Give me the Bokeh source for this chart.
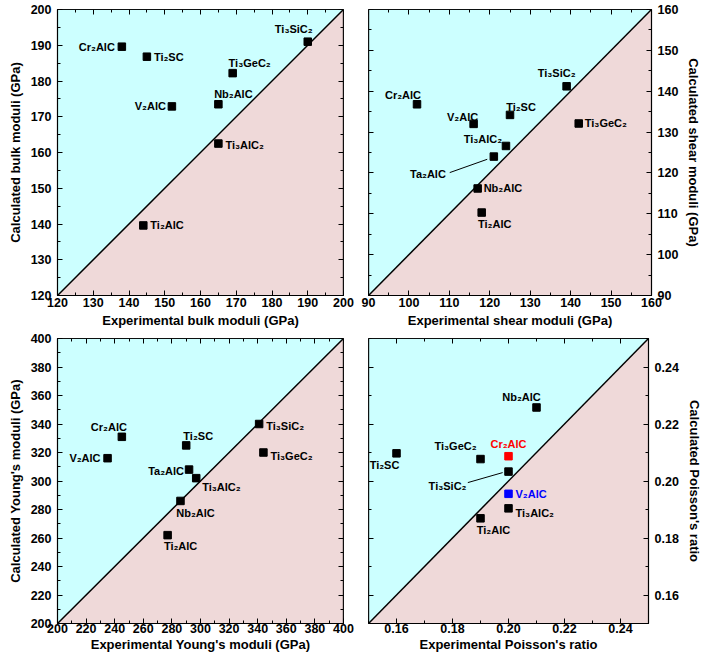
import numpy as np
from bokeh.plotting import figure
from bokeh.models import (Range1d, LinearAxis, SingleIntervalTicker, FixedTicker,
                          PrintfTickFormatter, ColumnDataSource)
from bokeh.layouts import column, row
from bokeh.embed import file_html
from bokeh.resources import INLINE

# ---------------- data ----------------
# Panel 1: bulk moduli (GPa)
bulk_names = ["Cr₂AlC", "Ti₂SC", "Ti₃SiC₂", "Ti₃GeC₂", "Nb₂AlC", "V₂AlC", "Ti₃AlC₂", "Ti₂AlC"]
bulk_exp = [138, 145, 190, 169, 165, 152, 165, 144]
bulk_calc = [189.6, 186.8, 191.0, 182.2, 173.5, 172.9, 162.5, 139.6]

# Panel 2: shear moduli (GPa)
shear_names = ["Cr₂AlC", "V₂AlC", "Ti₂SC", "Ti₃SiC₂", "Ti₃GeC₂", "Ti₃AlC₂", "Ta₂AlC", "Nb₂AlC", "Ti₂AlC"]
shear_exp = [102, 116, 125, 139, 142, 124, 121, 117, 118]
shear_calc = [136.8, 132.0, 134.2, 141.2, 132.1, 126.6, 124.0, 116.2, 110.3]

# Panel 3: Young's moduli (GPa)
young_names = ["Cr₂AlC", "V₂AlC", "Ti₂SC", "Ta₂AlC", "Ti₃AlC₂", "Nb₂AlC", "Ti₂AlC", "Ti₃SiC₂", "Ti₃GeC₂"]
young_exp = [245, 235, 290, 292, 297, 286, 277, 341, 344]
young_calc = [331, 316, 325, 308, 302, 286, 262, 340, 320]

# Panel 4: Poisson's ratio
pois_names = ["Nb₂AlC", "Ti₂SC", "Ti₃GeC₂", "Cr₂AlC", "Ti₃SiC₂", "V₂AlC", "Ti₃AlC₂", "Ti₂AlC"]
pois_exp = [0.21, 0.16, 0.19, 0.20, 0.20, 0.20, 0.20, 0.19]
pois_calc = [0.2258, 0.2097, 0.2077, 0.2087, 0.2033, 0.1955, 0.1904, 0.1869]

# ---------------- label placement (screen px) ----------------
bulk_lab = [("right", -7, 0), ("left", 7, 0), ("center", -14, -13), ("center", 17, -10),
            ("center", 15, -10), ("right", -6, 0), ("left", 7, 1), ("left", 7, 0)]
shear_lab = [("center", -14, -9), ("center", -11, -7), ("center", 11, -8), ("center", -10, -13),
             ("left", 6, 0), ("center", -23, -7), ("right", -48, 17), ("left", 6, 0), ("center", 13, 11)]
young_lab = [("center", -13, -10), ("right", -7, 0), ("center", 12, -9), ("right", -5, 1),
             ("left", 6, 9), ("center", 15, 12), ("center", 13, 11), ("left", 7, 2), ("left", 7, 3)]
pois_lab = [("center", -15, -10), ("center", -12, 12), ("center", -25, -13), ("center", 0, -12),
            ("right", -42, 14), ("left", 7, 0), ("left", 7, 5), ("center", 13, 12)]
pois_colors = ["black", "black", "black", "red", "black", "blue", "black", "black"]

CYAN = "#CCFFFF"
PINK = "#EFD9D9"
FONT = "Liberation Sans"


def style_axis(ax, interval, fmt, lab_standoff, title_standoff):
    ax.ticker = SingleIntervalTicker(interval=interval, num_minor_ticks=2)
    ax.formatter = PrintfTickFormatter(format=fmt)
    ax.major_tick_in = 5
    ax.major_tick_out = 0
    ax.minor_tick_in = 3
    ax.minor_tick_out = 0
    ax.axis_line_color = "black"
    ax.axis_line_width = 1.2
    ax.major_tick_line_color = "black"
    ax.minor_tick_line_color = "black"
    ax.major_label_text_font = FONT
    ax.major_label_text_font_style = "bold"
    ax.major_label_text_font_size = "12.5px"
    ax.major_label_text_color = "black"
    ax.major_label_standoff = lab_standoff
    ax.axis_label_text_font = FONT
    ax.axis_label_text_font_style = "bold"
    ax.axis_label_text_font_size = "13px"
    ax.axis_label_text_color = "black"
    ax.axis_label_standoff = title_standoff


def mirror_axis(p, side, lo, hi, interval, loc):
    n = int(round((hi - lo) / (interval / 2)))
    pos = [lo + k * interval / 2 for k in range(n + 1)]
    major = [v for k, v in enumerate(pos) if abs((v / interval) - round(v / interval)) < 1e-6]
    minor = [v for v in pos if v not in major]
    for ticks, ln in ((major, 5), (minor, 3)):
        ax = LinearAxis(ticker=FixedTicker(ticks=[], minor_ticks=ticks), fixed_location=loc)
        ax.minor_tick_in = ln
        ax.minor_tick_out = 0
        ax.major_tick_in = 0
        ax.major_tick_out = 0
        ax.minor_tick_line_color = "black"
        ax.axis_line_color = "black"
        ax.axis_line_width = 1.2
        ax.major_label_standoff = 0
        p.add_layout(ax, side)


def panel(lo, hi, interval, fmt, xlabel, ylabel, yside, names, xs, ys, labs, colors,
          width, height, borders, xstand, leader=None):
    p = figure(width=width, height=height, output_backend="svg", toolbar_location=None,
               x_range=Range1d(lo, hi), y_range=Range1d(lo, hi), y_axis_location=yside,
               min_border_left=borders[0], min_border_right=borders[1],
               min_border_top=borders[2], min_border_bottom=borders[3])
    p.grid.visible = False
    p.outline_line_color = "black"
    p.background_fill_color = "white"
    p.border_fill_color = "white"

    # background triangles and diagonal, from the axis range
    p.patch([lo, lo, hi], [lo, hi, hi], fill_color=CYAN, line_color=None)
    p.patch([lo, hi, hi], [lo, lo, hi], fill_color=PINK, line_color=None)
    p.line([lo, hi], [lo, hi], line_color="black", line_width=1.5)

    p.xaxis.axis_label = xlabel
    p.yaxis.axis_label = ylabel
    style_axis(p.xaxis[0], interval, fmt, xstand[0], xstand[1])
    style_axis(p.yaxis[0], interval, fmt, 6, 5)
    mirror_axis(p, "above", lo, hi, interval, hi)
    if yside == "right":
        mirror_axis(p, "left", lo, hi, interval, lo)
    else:
        mirror_axis(p, "right", lo, hi, interval, hi)

    fw = width - borders[0] - borders[1]
    fh = height - borders[2] - borders[3]
    sx = (hi - lo) / fw
    sy = (hi - lo) / fh

    if leader is not None:
        i, (ax0, ay0), (ax1, ay1) = leader
        p.line([xs[i] + ax0 * sx, xs[i] + ax1 * sx], [ys[i] - ay0 * sy, ys[i] - ay1 * sy],
               line_color="black", line_width=1)

    p.scatter(xs, ys, marker="square", size=7.5, fill_color=colors, line_color=colors)

    for al in ["left", "center", "right"]:
        idx = [k for k, l in enumerate(labs) if l[0] == al]
        if not idx:
            continue
        src = ColumnDataSource(dict(
            x=[xs[k] for k in idx], y=[ys[k] for k in idx], t=[names[k] for k in idx],
            dx=[labs[k][1] for k in idx], dy=[labs[k][2] for k in idx],
            c=[colors[k] for k in idx]))
        p.text("x", "y", text="t", x_offset="dx", y_offset="dy", source=src,
               text_align=al, text_baseline="middle", text_color="c",
               text_font_size="11px", text_font_style="bold", text_font={"value": FONT})
    return p


blk = ["black"] * 9

p1 = panel(120, 200, 10, "%d", "Experimental bulk moduli (GPa)", "Calculated bulk moduli (GPa)", "left",
           bulk_names, bulk_exp, bulk_calc, bulk_lab, blk[:8], 355, 330, (57, 12, 9, 35), (2, 3))
p2 = panel(90, 160, 10, "%d", "Experimental shear moduli (GPa)", "Calculated shear moduli (GPa)", "right",
           shear_names, shear_exp, shear_calc, shear_lab, blk, 349, 330, (13, 49, 9, 35), (2, 3),
           leader=(6, (-44.7, 16), (-6.7, 2.7)))
p3 = panel(200, 400, 20, "%d", "Experimental Young's moduli (GPa)", "Calculated Young's moduli (GPa)", "left",
           young_names, young_exp, young_calc, young_lab, blk, 355, 328, (57, 12, 8, 35), (0, 1))
p4 = panel(0.15, 0.25, 0.02, "%.2f", "Experimental Poisson's ratio", "Calculated Poisson's ratio", "right",
           pois_names, pois_exp, pois_calc, pois_lab, pois_colors, 349, 328, (13, 49, 8, 35), (0, 1),
           leader=(4, (-41.7, 11), (-6, 1)))

layout = column(row(p1, p2), row(p3, p4))
open("out.html", "w").write(file_html(layout, INLINE))
